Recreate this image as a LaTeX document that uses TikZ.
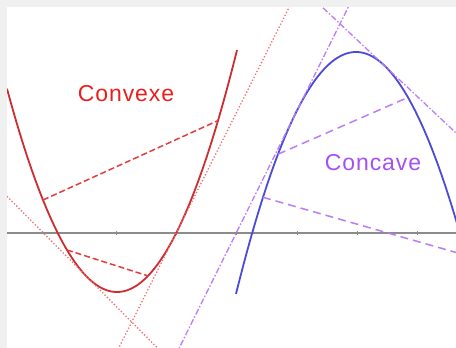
\documentclass[tikz,border=0pt]{standalone}
\usepackage{fontspec}
\setmainfont{Liberation Sans}[LetterSpace=4]
\begin{document}
\begin{tikzpicture}[x=1pt,y=-1pt,
  curvered/.style={draw=cred,line width=1.8pt},
  curveblue/.style={draw=cblue,line width=1.8pt},
  tanred/.style={draw=tred,line width=1.3pt,dotted},
  chordred/.style={draw=chred,line width=1.5pt,dash pattern=on 6pt off 3pt},
  tanpurp/.style={draw=cpurp,line width=1.3pt,dash pattern=on 6pt off 2pt on 1.5pt off 2pt},
  chordpurp/.style={draw=cpurp,line width=1.5pt,dash pattern=on 8pt off 5pt},
  axisline/.style={draw=gray!90,line width=1.5pt},
  lbl/.style={font=\fontsize{23}{26}\selectfont,inner sep=0pt}]
\definecolor{cred}{RGB}{205,45,50}
\definecolor{tred}{RGB}{240,110,110}
\definecolor{chred}{RGB}{228,60,60}
\definecolor{cblue}{RGB}{75,75,215}
\definecolor{cpurp}{RGB}{185,125,250}
\definecolor{txtred}{RGB}{235,30,30}
\definecolor{txtpurp}{RGB}{165,80,245}
\definecolor{frame}{RGB}{240,240,240}
\useasboundingbox (0,0) rectangle (456,348);
\fill[frame] (0,0) rectangle (456,348);
\fill[white] (7,7) rectangle (456,348);
\begin{scope}
\clip (7,7) rectangle (456,348);
% axis
\coordinate (axL) at (7,233);
\coordinate (axR) at (456,233);
\draw[axisline] (axL) -- (axR);
\foreach \t in {116,176,236,297,357,417}
  \draw[gray!90,line width=0.8pt] (\t,231) -- (\t,235);
% convex curve
\draw[curvered] plot[domain=7:237,samples=120] (\x,{292-0.0168*(\x-117)^2});
% convex tangents
\coordinate (t1a) at (292.75,0);
\coordinate (t1b) at (118.75,348);
\draw[tanred] (t1a) -- (t1b);
\coordinate (t2a) at (7,196.3);
\coordinate (t2b) at (157.5,348);
\draw[tanred] (t2a) -- (t2b);
% convex chords
\coordinate (c1a) at (43,200);
\coordinate (c1b) at (218,120.6);
\draw[chordred] (c1a) -- (c1b);
\coordinate (c2a) at (67,250);
\coordinate (c2b) at (148,275.9);
\draw[chordred] (c2a) -- (c2b);
% concave curve
\draw[curveblue] plot[domain=236:468,samples=120] (\x,{52+0.0168*(\x-356)^2});
% concave tangents
\coordinate (pa1) at (314.7,0);
\coordinate (pa2) at (470,146.1);
\draw[tanpurp] (pa1) -- (pa2);
\coordinate (pb1) at (351.8,0);
\coordinate (pb2) at (179.2,348);
\draw[tanpurp] (pb1) -- (pb2);
% concave chords
\coordinate (q1a) at (278,154.2);
\coordinate (q1b) at (408,97.4);
\draw[chordpurp] (q1a) -- (q1b);
\coordinate (q2a) at (263,197.3);
\coordinate (q2b) at (466,255.3);
\draw[chordpurp] (q2a) -- (q2b);
\end{scope}
% labels
\node[lbl,text=txtred] (convexe) at (126,94) {Convexe};
\node[lbl,text=txtpurp] (concave) at (373,163) {Concave};
\end{tikzpicture}
\end{document}
